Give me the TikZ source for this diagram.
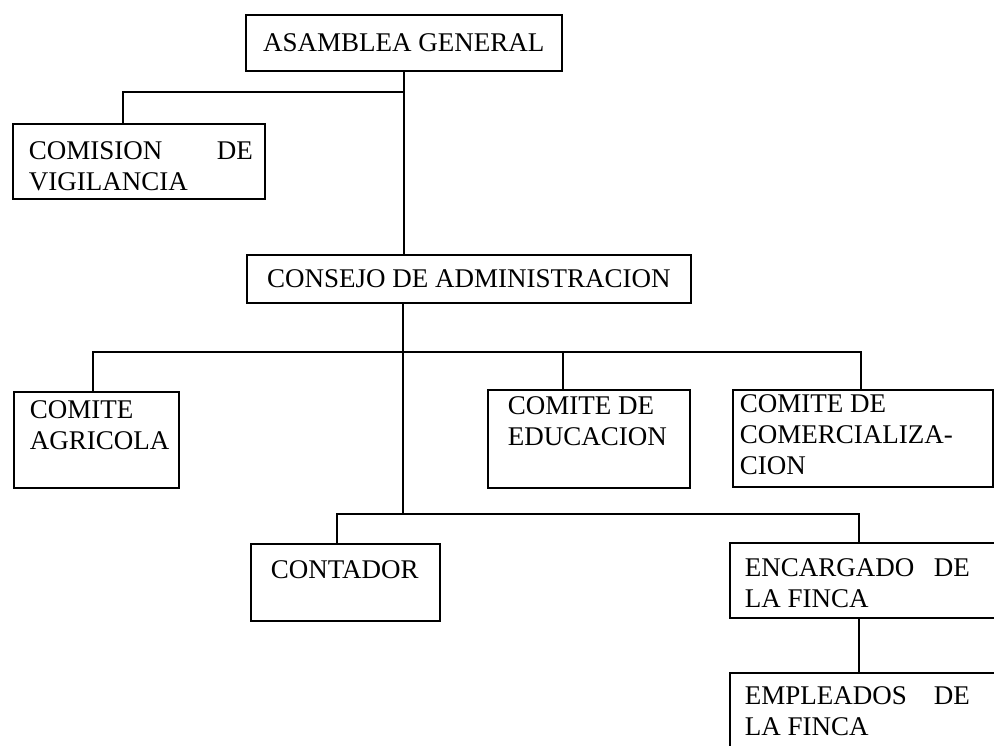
\documentclass[tikz,border=0pt]{standalone}
\usepackage{fontspec}
\setmainfont{Liberation Serif}
% width, height, first baseline from top, left pad, right pad, text
\newcommand{\tbx}[6]{\parbox[t][#2][t]{#1}{\leftskip=#4\rightskip=#5 plus 1fil\parindent=0pt\parfillskip=0pt plus 1fil\rule{0pt}{#3}#6\par\vfill}}
\begin{document}
\begin{tikzpicture}[x=1pt,y=-1pt,
  orgtxt/.style={font=\fontsize{27pt}{31pt}\selectfont},
  bx/.style={orgtxt,draw,line width=1.6pt,inner sep=0pt,anchor=north west},
  cbx/.style={bx,align=center},
  link/.style={line width=1.6pt}]
\useasboundingbox (0,0) rectangle (994,746);
\clip (0,0) rectangle (994,746);
\fill[white] (0,0) rectangle (994,746);

\node[cbx,minimum width=316pt,minimum height=56pt] (asam) at (245,14) {ASAMBLEA GENERAL};
\node[bx] (comi) at (12,123) {\tbx{252pt}{75pt}{36pt}{16pt}{12pt}{COMISION\hfill DE\\VIGILANCIA}};
\node[cbx,minimum width=444pt,minimum height=48pt] (cons) at (246,254) {CONSEJO DE ADMINISTRACION};

\node[bx] (agri) at (13,391) {\tbx{165pt}{96pt}{27pt}{16pt}{2pt}{COMITE\\AGRICOLA}};
\node[bx] (educ) at (487,389) {\tbx{202pt}{98pt}{25pt}{20pt}{2pt}{COMITE DE\\EDUCACION}};
\node[bx] (come) at (732,389) {\tbx{260pt}{97pt}{23pt}{7pt}{2pt}{COMITE DE\\COMERCIALIZA-\\CION}};

\node[bx] (cont) at (250,543) {\tbx{189pt}{77pt}{35pt}{20pt}{2pt}{CONTADOR}};
\node[bx] (enca) at (729,542) {\tbx{300pt}{75pt}{34pt}{15pt}{60pt}{ENCARGADO\hfill DE\\LA FINCA}};
\node[bx] (empl) at (729,672) {\tbx{300pt}{100pt}{32pt}{15pt}{60pt}{EMPLEADOS\hfill DE\\LA FINCA}};

% junctions
\coordinate (j1) at (403,92);
\coordinate (b1) at (403,352);
\coordinate (b2) at (403,514);
\coordinate (cmt) at ([xshift=111pt]comi.north west);
\coordinate (agt) at ([xshift=80pt]agri.north west);
\coordinate (edt) at ([xshift=76pt]educ.north west);
\coordinate (cot) at ([xshift=129pt]come.north west);
\coordinate (ctt) at ([xshift=87pt]cont.north west);
\coordinate (ent) at ([xshift=130pt]enca.north west);

\draw[link] (asam.south) -- (asam.south |- cons.north);
\draw[link] (j1) -| (cmt);
\draw[link] (cons.south -| b1) -- (b2);
\draw[link] (agt) |- (b1) -| (cot);
\draw[link] (edt) -- (edt |- b1);
\draw[link] (ctt) |- (b2) -| (ent);
\draw[link] (ent |- enca.south) -- (ent |- empl.north);
\end{tikzpicture}
\end{document}
